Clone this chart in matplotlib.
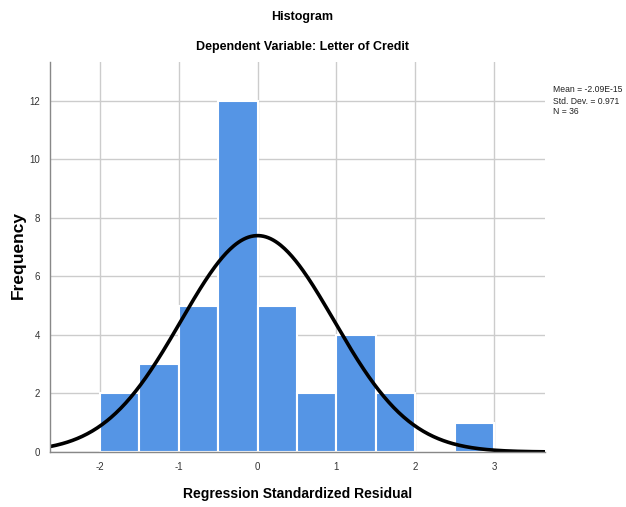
import numpy as np
import matplotlib
matplotlib.use("Agg")
import matplotlib.pyplot as plt

bin_edges = [-2.0, -1.5, -1.0, -0.5, 0.0, 0.5, 1.0, 1.5, 2.0, 2.5, 3.0]
counts = [2, 3, 5, 12, 5, 2, 4, 2, 0, 1]
mean = -2.09e-15
std = 0.971
n = 36
x_ticks = [-2, -1, 0, 1, 2, 3]
y_ticks = [0, 2, 4, 6, 8, 10, 12]

plt.rcParams['font.family'] = ['Liberation Sans', 'DejaVu Sans']

fig = plt.figure(figsize=(6.26, 5.07), dpi=100)
ax = fig.add_axes([50/626, 1-452/507, 495/626, 390/507])

lefts = bin_edges[:-1]
widths = np.diff(bin_edges)
ax.bar(lefts, counts, width=widths, align='edge', color='#5595e5',
       edgecolor='white', linewidth=1.5, zorder=2)

bw = widths[0]
xs = np.linspace(-2.634, 3.647, 400)
ys = n * bw / (std * np.sqrt(2*np.pi)) * np.exp(-0.5*((xs-mean)/std)**2)
ax.plot(xs, ys, color='black', lw=2.6, zorder=3, solid_capstyle='butt')

ax.set_xlim(-2.634, 3.647)
ax.set_ylim(0, 13.33)
ax.set_xticks(x_ticks)
ax.set_yticks(y_ticks)
ax.set_xticklabels([str(t) for t in x_ticks])
ax.set_yticklabels([str(t) for t in y_ticks])
ax.grid(True, color='#cccccc', lw=1.0, zorder=0)
ax.set_axisbelow(True)
ax.tick_params(length=0, labelsize=7, colors='#333333', pad=7)
for s in ['top', 'right']:
    ax.spines[s].set_visible(False)
for s in ['left', 'bottom']:
    ax.spines[s].set_color('#888888')
    ax.spines[s].set_linewidth(1.0)
    ax.spines[s].set_zorder(4)

fig.text(302/626, 1-17/507, 'Histogram', ha='center', va='center',
         fontsize=9, fontweight='bold')
fig.text(302/626, 1-47/507, 'Dependent Variable: Letter of Credit', ha='center',
         va='center', fontsize=9, fontweight='bold')
fig.text(298/626, 1-494/507, 'Regression Standardized Residual', ha='center',
         va='center', fontsize=10, fontweight='bold')
fig.text(18/626, 1-255/507, 'Frequency', ha='center', va='center',
         rotation=90, fontsize=12.5, fontweight='bold')

fig.text(553/626, 1-90/507, 'Mean = -2.09E-15',
         fontsize=6.2, va='center', ha='left', color='#222222')
fig.text(553/626, 1-101/507, f'Std. Dev. = {std}', fontsize=6.2, va='center',
         ha='left', color='#222222')
fig.text(553/626, 1-112/507, f'N = {n}', fontsize=6.2, va='center',
         ha='left', color='#222222')

fig.savefig('out.png', dpi=100)
